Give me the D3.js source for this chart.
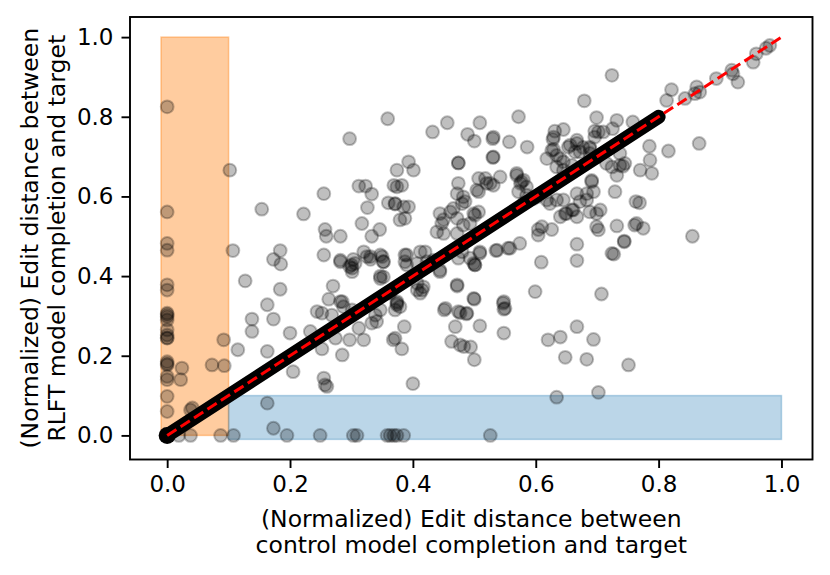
<!DOCTYPE html>
<html><head><meta charset="utf-8">
<script src="https://cdn.jsdelivr.net/npm/d3@7"></script>
<style>body{margin:0;background:#fff}svg{display:block}text{font-family:"DejaVu Sans",sans-serif;fill:#000}</style>
</head><body><svg id="c" width="830" height="575"></svg>
<script>
const xTicks = [0, 0.2, 0.4, 0.6, 0.8, 1.0];
const yTicks = [0, 0.2, 0.4, 0.6, 0.8, 1.0];
const xLabel = ["(Normalized) Edit distance between", "control model completion and target"];
const yLabel = ["(Normalized) Edit distance between", "RLFT model completion and target"];
// highlighted regions [x0, x1, y0, y1]
const orangeRegion = [-0.01, 0.1, 0, 1.0];
const blueRegion = [0.1, 1.0, -0.01, 0.1];
// thick diagonal of identical scores, and y = x reference
const diagBand = [0, 0.8];
const refLine = [0, 1];
// [control distance, RLFT distance]
const points = [
[0,0.825],[0,0.561],[0,0.482],[0,0.465],[0,0.378],[0,0.365],[0,0.307],[0,0.303],[0,0.298],[0,0.290],[0,0.265],[0,0.252],[0,0.245],[0,0.244],[0,0.185],[0,0.18],[0,0.177],[0,0.148],[0,0.140],[0,0.098],[0,0.060],
[0.102,0.666],[0.107,0.464],[0.024,0.169],[0.022,0.140],[0.073,0.177],[0.093,0.175],[0.092,0.240],[0.041,0.069],[0.038,0.064],[0.019,0],[0.038,0],[0.087,0],[0.108,0],
[0.173,0.018],[0.195,0],[0.249,0],[0.303,0],[0.309,0],[0.358,0],[0.363,0],[0.369,0],[0.374,0],[0.385,0],[0.526,0],[0.163,0.081],[0.634,0.096],[0.702,0.108],
[0.154,0.568],[0.222,0.556],[0.255,0.607],[0.297,0.745],[0.359,0.795],[0.374,0.666],[0.312,0.626],[0.323,0.626],[0.333,0.606],[0.374,0.624],[0.360,0.584],[0.371,0.581],[0.326,0.572],[0.317,0.532],[0.346,0.517],[0.333,0.500],[0.257,0.517],[0.259,0.500],[0.282,0.500],[0.184,0.464],[0.173,0.442],[0.185,0.430],[0.255,0.453],[0.282,0.436],[0.303,0.442],[0.300,0.428],[0.325,0.449],[0.331,0.442],[0.350,0.449],[0.352,0.436],[0.379,0.541],
[0.127,0.388],[0.184,0.367],[0.163,0.328],[0.138,0.292],[0.173,0.292],[0.138,0.261],[0.200,0.257],[0.115,0.215],[0.163,0.211],[0.205,0.160],[0.255,0.144],[0.257,0.127],[0.260,0.123],[0.233,0.261],[0.285,0.202],[0.297,0.240],[0.320,0.240],[0.274,0.244],[0.252,0.217],[0.312,0.269],[0.341,0.286],[0.333,0.282],[0.270,0.375],[0.263,0.342],[0.285,0.336],[0.244,0.311],[0.252,0.307],[0.268,0.302],[0.301,0.315],[0.297,0.424],[0.301,0.411],[0.347,0.400],[0.368,0.240],[0.374,0.332],
[0.400,0.130],[0.751,0.177],[0.648,0.196],[0.683,0.191],[0.620,0.240],[0.640,0.247],[0.667,0.273],[0.694,0.241],[0.707,0.355],[0.599,0.361],[0.609,0.435],[0.667,0.439],[0.667,0.480],[0.724,0.457],[0.727,0.455],[0.744,0.488],[0.732,0.526],[0.699,0.524],[0.702,0.516],[0.761,0.528],[0.626,0.517],[0.604,0.503],[0.610,0.524],[0.574,0.482],[0.558,0.470],[0.535,0.464],[0.501,0.428],[0.501,0.428],[0.509,0.457],[0.472,0.378],[0.500,0.342],[0.548,0.336],[0.548,0.317],[0.451,0.315],[0.477,0.308],[0.487,0.305],[0.509,0.275],[0.469,0.273],[0.548,0.257],[0.463,0.236],[0.477,0.227],[0.483,0.223],[0.494,0.222],[0.500,0.190],[0.386,0.273],[0.371,0.244],[0.382,0.217],[0.374,0.328],[0.415,0.365],[0.444,0.411],[0.387,0.453],[0.387,0.436],
[0.724,0.904],[0.679,0.840],[0.572,0.800],[0.456,0.785],[0.432,0.762],[0.509,0.785],[0.489,0.756],[0.500,0.739],[0.530,0.745],[0.557,0.737],[0.586,0.724],[0.530,0.698],[0.474,0.684],[0.474,0.684],[0.631,0.764],[0.645,0.768],[0.628,0.743],[0.629,0.718],[0.640,0.695],[0.667,0.741],[0.699,0.798],[0.696,0.764],[0.732,0.791],[0.758,0.787],[0.710,0.762],[0.725,0.770],[0.688,0.720],[0.737,0.708],[0.742,0.676],[0.732,0.653],[0.691,0.637],[0.691,0.640],[0.729,0.612],[0.694,0.612],[0.763,0.587],[0.393,0.687],[0.401,0.666],[0.385,0.574],[0.393,0.574],[0.387,0.545],[0.371,0.582],[0.474,0.633],[0.472,0.607],[0.482,0.599],[0.485,0.587],[0.507,0.645],[0.518,0.645],[0.526,0.633],[0.542,0.649],[0.507,0.612],[0.569,0.658],[0.577,0.637],[0.572,0.612],[0.585,0.624],[0.444,0.557],[0.450,0.542],[0.466,0.570],[0.480,0.582],[0.501,0.553],[0.507,0.561],[0.623,0.582],[0.648,0.557],[0.661,0.566],[0.667,0.549],[0.688,0.561],[0.699,0.557],[0.705,0.566],[0.656,0.729],[0.664,0.712],[0.677,0.723],[0.688,0.708],[0.699,0.699],[0.618,0.695],[0.634,0.674],[0.645,0.666],[0.659,0.678],[0.715,0.683],[0.724,0.674],[0.745,0.683],[0.667,0.607],[0.683,0.591],[0.602,0.599],[0.618,0.591],[0.634,0.591],
[0.954,0.937],[0.929,0.887],[0.894,0.896],[0.919,0.917],[0.921,0.908],[0.862,0.875],[0.867,0.862],[0.859,0.858],[0.821,0.868],[0.813,0.841],[0.843,0.846],[0.866,0.733],[0.816,0.714],[0.785,0.726],[0.786,0.691],[0.789,0.658],[0.770,0.666],[0.769,0.584],[0.764,0.532],[0.775,0.520],[0.744,0.486],[0.855,0.500],[0.737,0.678],[0.981,0.979],[0.959,0.958],[0.975,0.972],
[0.369,0.628],[0.382,0.628],[0.520,0.633],[0.531,0.628],[0.504,0.616],[0.447,0.532],[0.461,0.561],[0.472,0.545],[0.439,0.511],[0.450,0.507],[0.472,0.507],[0.482,0.528],[0.499,0.557],[0.493,0.532],[0.537,0.465],[0.555,0.470],[0.509,0.461],[0.499,0.432],[0.493,0.445],[0.474,0.445],[0.480,0.461],[0.472,0.375],[0.444,0.415],[0.434,0.440],[0.499,0.344],[0.453,0.319],[0.474,0.311],[0.488,0.307],[0.547,0.332],[0.550,0.319],[0.390,0.453],[0.412,0.461],[0.420,0.461],[0.390,0.428],[0.407,0.432],[0.423,0.436],[0.347,0.394],[0.352,0.398],[0.320,0.461],[0.331,0.449],[0.347,0.453],[0.352,0.436],[0.282,0.440],[0.301,0.420],[0.306,0.432],[0.282,0.336],[0.287,0.323],[0.363,0.357],[0.374,0.336],[0.379,0.323],[0.371,0.315],[0.407,0.365],[0.412,0.357],[0.347,0.315],[0.339,0.302],[0.407,0.382],[0.417,0.373],
[0.531,0.749],[0.531,0.699],[0.629,0.749],[0.626,0.716],[0.634,0.703],[0.645,0.687],[0.653,0.724],[0.667,0.733],[0.672,0.712],[0.688,0.724],[0.696,0.749],[0.702,0.762],[0.604,0.517],[0.640,0.549],[0.650,0.557],[0.659,0.566],[0.645,0.591],[0.672,0.587],[0.683,0.607],[0.569,0.653],[0.580,0.641],[0.575,0.633],[0.585,0.603],[0.596,0.595],[0.580,0.582]
];

const svg = d3.select("#c");
const L = 130, R = 812.5, T = 17, B = 459.5;
const x = d3.scaleLinear().domain([-0.0605, 1.0505]).range([L, R]);
const y = d3.scaleLinear().domain([-0.0605, 1.0505]).range([B, T]);

// regions
svg.append("rect").attr("x", x(orangeRegion[0])).attr("y", y(orangeRegion[3]))
  .attr("width", x(orangeRegion[1]) - x(orangeRegion[0])).attr("height", y(orangeRegion[2]) - y(orangeRegion[3]))
  .attr("fill", "#ff7f0e").attr("fill-opacity", 0.4).attr("stroke", "#ff7f0e").attr("stroke-opacity", 0.4).attr("stroke-width", 1.5);
svg.append("rect").attr("x", x(blueRegion[0])).attr("y", y(blueRegion[3]))
  .attr("width", x(blueRegion[1]) - x(blueRegion[0])).attr("height", y(blueRegion[2]) - y(blueRegion[3]))
  .attr("fill", "#1f77b4").attr("fill-opacity", 0.3).attr("stroke", "#1f77b4").attr("stroke-opacity", 0.3).attr("stroke-width", 1.5);

// scatter
svg.append("g").selectAll("circle").data(points).join("circle")
  .attr("cx", d => x(d[0])).attr("cy", d => y(d[1])).attr("r", 6.4)
  .attr("fill", "rgba(0,0,0,0.25)").attr("stroke", "rgba(0,0,0,0.25)").attr("stroke-width", 2);

// dense diagonal band
svg.append("line").attr("x1", x(diagBand[0])).attr("y1", y(diagBand[0]))
  .attr("x2", x(diagBand[1])).attr("y2", y(diagBand[1]))
  .attr("stroke", "#000").attr("stroke-width", 14).attr("stroke-linecap", "round");
svg.append("circle").attr("cx", x(0)).attr("cy", y(0)).attr("r", 8.5).attr("fill", "#000");

// y = x reference
svg.append("line").attr("x1", x(refLine[0])).attr("y1", y(refLine[0]))
  .attr("x2", x(refLine[1])).attr("y2", y(refLine[1]))
  .attr("stroke", "#ff0000").attr("stroke-width", 3).attr("stroke-dasharray", "11,5");

// axes
const fmt = d3.format(".1f");
const gx = svg.append("g").attr("transform", `translate(0,${B})`)
  .call(d3.axisBottom(x).tickValues(xTicks).tickFormat(fmt).tickSize(8.5).tickPadding(8));
const gy = svg.append("g").attr("transform", `translate(${L},0)`)
  .call(d3.axisLeft(y).tickValues(yTicks).tickFormat(fmt).tickSize(8.5).tickPadding(8));
[gx, gy].forEach(g => {
  g.select(".domain").remove();
  g.selectAll("line").attr("stroke", "#000").attr("stroke-width", 1.9);
  g.selectAll("text").attr("font-size", 23).attr("font-family", "DejaVu Sans").attr("fill", "#000");
});
svg.append("rect").attr("x", L).attr("y", T).attr("width", R - L).attr("height", B - T)
  .attr("fill", "none").attr("stroke", "#000").attr("stroke-width", 1.9);

// axis labels
const cx = (L + R) / 2, cy = (T + B) / 2;
svg.append("g").selectAll("text").data(xLabel).join("text")
  .attr("x", cx).attr("y", (d, i) => 527 + i * 26).attr("text-anchor", "middle").attr("font-size", 23.5).text(d => d);
svg.append("g").selectAll("text").data(yLabel).join("text")
  .attr("transform", (d, i) => `translate(${38 + i * 27},${cy}) rotate(-90)`)
  .attr("text-anchor", "middle").attr("font-size", 23.5).text(d => d);
</script></body></html>
